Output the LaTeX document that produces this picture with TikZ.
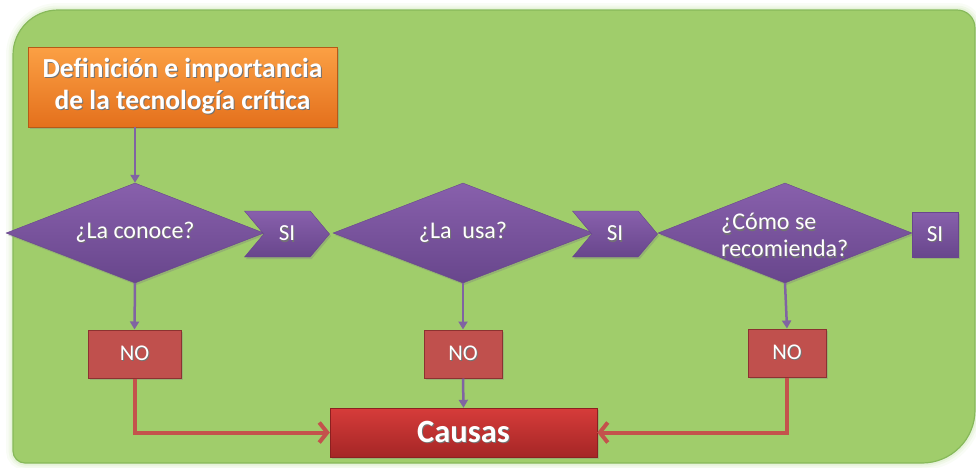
\documentclass[tikz,border=0pt]{standalone}
\usepackage{fontspec}
\setmainfont{Carlito}
\usetikzlibrary{shapes.geometric,shapes.symbols,arrows.meta,shadows}
\definecolor{bggreen}{RGB}{160,205,107}
\definecolor{bgedge}{RGB}{135,185,90}
\definecolor{glow}{RGB}{215,235,195}
\definecolor{orangetop}{RGB}{251,160,68}
\definecolor{orangebot}{RGB}{228,112,28}
\definecolor{purptop}{RGB}{136,96,172}
\definecolor{purpbot}{RGB}{104,70,140}
\definecolor{purpline}{RGB}{128,100,162}
\definecolor{nored}{RGB}{192,80,77}
\definecolor{noredge}{RGB}{140,50,48}
\definecolor{cautop}{RGB}{214,60,58}
\definecolor{caubot}{RGB}{165,38,38}
\definecolor{redline}{RGB}{196,82,76}
\newcommand\shtx[1]{\rlap{\kern1pt\raisebox{-1.3pt}{\textcolor{black!55}{#1}}}#1}
\begin{document}
\begin{tikzpicture}[x=1pt,y=-1pt,
  shade/.style={drop shadow={opacity=0.35,shadow xshift=1.5pt,shadow yshift=-2pt}},
  titlebox/.style={shade,rectangle,top color=orangetop,bottom color=orangebot,draw=orangebot!80!black,line width=0.4pt,
    minimum width=309pt,minimum height=80pt,inner sep=0pt,align=center,text=white,
    font=\fontsize{27.5}{32}\selectfont\bfseries},
  question/.style={shade,diamond,aspect=2.6,top color=purptop,bottom color=purpbot,draw=purpbot,line width=0.4pt,
    inner sep=0pt,minimum height=100pt,text=white,font=\fontsize{24}{27}\selectfont},
  yes/.style={shade,signal,signal to=east,signal from=west,signal pointer angle=100,
    top color=purptop,bottom color=purpbot,draw=purpbot,line width=0.4pt,
    minimum width=85pt,minimum height=46pt,inner sep=0pt,text=white,font=\fontsize{23}{26}\selectfont},
  yesbox/.style={shade,rectangle,top color=purptop,bottom color=purpbot,draw=purpbot,line width=0.4pt,
    minimum width=46pt,minimum height=45pt,inner sep=0pt,text=white,font=\fontsize{23}{26}\selectfont},
  nobox/.style={shade,rectangle,fill=nored,draw=noredge,line width=1pt,
    minimum height=48pt,inner sep=0pt,text=white,font=\fontsize{22.5}{26}\selectfont},
  causebox/.style={shade,rectangle,top color=cautop,bottom color=caubot,draw=caubot!85!black,line width=0.4pt,
    minimum width=267pt,minimum height=49pt,inner sep=0pt,text=white,font=\fontsize{32.5}{36}\selectfont\bfseries},
  flow/.style={draw=purpline,line width=2.5pt,-{Triangle[width=9pt,length=8pt]}},
  back/.style={draw=redline,line width=4pt,-{Straight Barb[length=8pt,width=20pt,line width=4pt]}}
]
\useasboundingbox (0,0) rectangle (976,467);
% background panel with glow
\foreach \w/\o in {14/0.15,9/0.25,5/0.4}{
  \draw[glow,line width=\w pt,opacity=\o]
    (13,55) arc[start angle=180,end angle=90,radius=45pt] -- (957,10)
    arc[start angle=90,end angle=0,radius=18pt] -- (975,410)
    arc[start angle=0,end angle=-90,radius=53pt] -- (25,463)
    arc[start angle=270,end angle=180,radius=12pt] -- cycle;
}
\path[fill=bggreen,draw=bgedge,line width=1.2pt]
    (13,55) arc[start angle=180,end angle=90,radius=45pt] -- (957,10)
    arc[start angle=90,end angle=0,radius=18pt] -- (975,410)
    arc[start angle=0,end angle=-90,radius=53pt] -- (25,463)
    arc[start angle=270,end angle=180,radius=12pt] -- cycle;

\node[titlebox] (title) at (182.5,87) {\shtx{Definición e importancia}\\\shtx{de la tecnología crítica}};

\node[question,minimum width=258pt] (q1) at (135,233) {\shtx{¿La conoce?}};
\node[question,minimum width=260pt] (q2) at (463,233) {\shtx{¿La\ \ usa?}};
\node[question,minimum width=254pt] (q3) at (785,233) {};
\node[text=white,font=\fontsize{24}{27}\selectfont,align=left,anchor=west,inner sep=0pt] (q3t) at (721,236) {\shtx{¿Cómo se}\\\shtx{recomienda?}};

\node[yes] (s1) at (287,234) {\shtx{SI}};
\node[yes] (s2) at (615,234) {\shtx{SI}};
\node[yesbox] (s3) at (935,234.5) {\shtx{SI}};

\node[nobox,minimum width=93pt] (n1) at (134.5,354) {\shtx{NO}};
\node[nobox,minimum width=78pt] (n2) at (463,354) {\shtx{NO}};
\node[nobox,minimum width=78pt] (n3) at (787,353) {\shtx{NO}};

\node[causebox] (c) at (463.5,432.5) {\shtx{Causas}};

\draw[flow] (q1.north |- title.south) -- (q1.north);
\draw[flow] (q1.south) -- (n1.north);
\draw[flow] (q2.south) -- (n2.north);
\draw[flow] (q3.south) -- (n3.north);
\draw[flow] (n2.south) -- (c.north);
\draw[back] (n1.south) |- (c.west);
\draw[back] (n3.south) |- (c.east);
\end{tikzpicture}
\end{document}
